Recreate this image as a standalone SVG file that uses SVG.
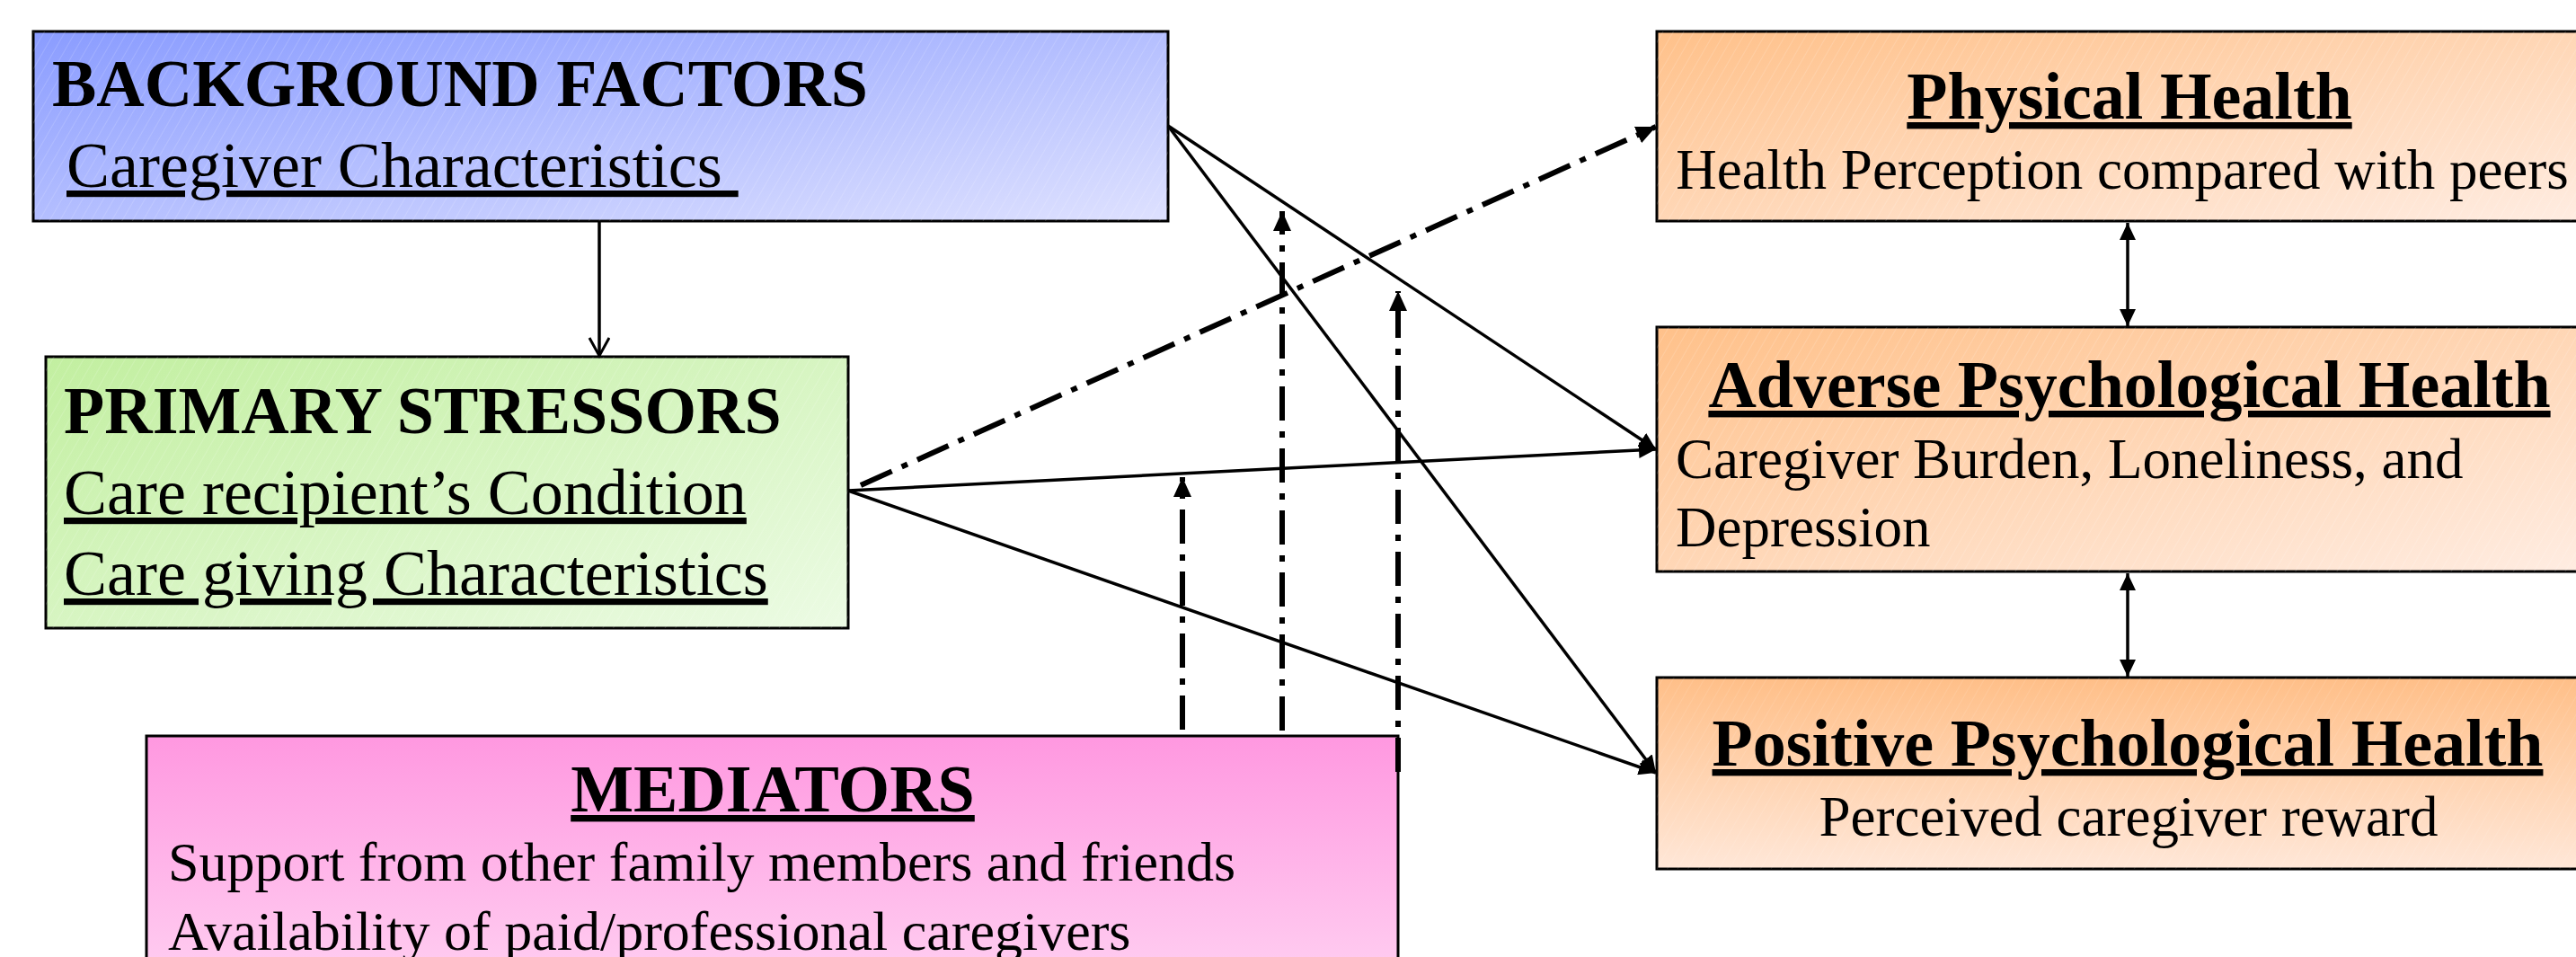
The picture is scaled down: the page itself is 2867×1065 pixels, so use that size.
<svg xmlns="http://www.w3.org/2000/svg" width="2867" height="1065" viewBox="0 0 2867 1065">
<style>
.box{stroke:#000;stroke-width:3}
.hd{font-family:"Liberation Serif","Times New Roman",serif;font-weight:bold;font-size:74px;fill:#000}
.bd{font-family:"Liberation Serif","Times New Roman",serif;font-size:72px;fill:#000}
.bs{font-family:"Liberation Serif","Times New Roman",serif;font-size:63px;fill:#000}
.bm{font-family:"Liberation Serif","Times New Roman",serif;font-size:62px;fill:#000}
.u{text-decoration:underline}
.c{text-anchor:middle}
.solid{fill:none;stroke:#000;stroke-width:3.5}
.dd{fill:none;stroke:#000;stroke-width:6;stroke-dasharray:38 12 7 12}
</style>
<defs>
<linearGradient id="gBlue" x1="0" y1="0" x2="1" y2="1"><stop offset="0" stop-color="#8A9CFF"/><stop offset="1" stop-color="#DEE1FF"/></linearGradient>
<linearGradient id="gGreen" x1="0" y1="0" x2="1" y2="1"><stop offset="0" stop-color="#C2EFA0"/><stop offset="1" stop-color="#ECFBE4"/></linearGradient>
<linearGradient id="gOrange" x1="0" y1="0" x2="1" y2="1"><stop offset="0" stop-color="#FFC18A"/><stop offset="1" stop-color="#FFEDE3"/></linearGradient>
<linearGradient id="gOrangeV" x1="0" y1="0" x2="0" y2="1"><stop offset="0" stop-color="#FFBF88"/><stop offset="1" stop-color="#FFE7D8"/></linearGradient>
<linearGradient id="gPink" x1="0" y1="0" x2="0" y2="1"><stop offset="0" stop-color="#FF98E0"/><stop offset="1" stop-color="#FFD8F4"/></linearGradient>
<pattern id="hatch" width="10" height="10" patternUnits="userSpaceOnUse" patternTransform="rotate(30)"><line x1="0" y1="0" x2="0" y2="10" stroke="#fff" stroke-width="1"/></pattern>
<marker id="ah" markerUnits="userSpaceOnUse" markerWidth="20" markerHeight="18" refX="19" refY="9" orient="auto-start-reverse"><path d="M0,0 L19,9 L0,18 z" fill="#000"/></marker>
<marker id="ahb" markerUnits="userSpaceOnUse" markerWidth="24" markerHeight="20" refX="22" refY="10" orient="auto"><path d="M0,0 L22,10 L0,20 z" fill="#000"/></marker>
<marker id="vo" markerUnits="userSpaceOnUse" markerWidth="26" markerHeight="26" refX="22" refY="12" orient="auto"><path d="M2,1 L22,12 L2,23" fill="none" stroke="#000" stroke-width="3"/></marker>
</defs>
<rect width="2867" height="1065" fill="#fff"/>

<g id="background-factors">
<rect class="box" x="37" y="35" width="1263" height="211" fill="url(#gBlue)"/>
<rect x="37" y="35" width="1263" height="211" fill="url(#hatch)" opacity="0.3"/>
<text class="hd" x="58" y="118">BACKGROUND FACTORS</text>
<text class="bd u" x="74" y="208" xml:space="preserve">Caregiver Characteristics </text>
</g>

<g id="primary-stressors">
<rect class="box" x="51" y="397" width="893" height="302" fill="url(#gGreen)"/>
<rect x="51" y="397" width="893" height="302" fill="url(#hatch)" opacity="0.3"/>
<text class="hd" x="71" y="482">PRIMARY STRESSORS</text>
<text class="bd u" x="71" y="572">Care recipient’s Condition</text>
<text class="bd u" x="71" y="662">Care giving Characteristics</text>
</g>

<g id="mediators">
<rect class="box" x="163" y="819" width="1393" height="320" fill="url(#gPink)"/>
<text class="hd u c" x="860" y="903">MEDIATORS</text>
<text class="bm" x="187" y="980">Support from other family members and friends</text>
<text class="bm" x="187" y="1057">Availability of paid/professional caregivers</text>
</g>

<g id="physical-health">
<rect class="box" x="1844" y="35" width="1060" height="211" fill="url(#gOrange)"/>
<rect x="1844" y="35" width="1060" height="211" fill="url(#hatch)" opacity="0.3"/>
<text class="hd u c" x="2370" y="132">Physical Health</text>
<text class="bs c" x="2362" y="210">Health Perception compared with peers</text>
</g>

<g id="adverse-psychological-health">
<rect class="box" x="1844" y="364" width="1060" height="272" fill="url(#gOrange)"/>
<rect x="1844" y="364" width="1060" height="272" fill="url(#hatch)" opacity="0.3"/>
<text class="hd u c" x="2370" y="453">Adverse Psychological Health</text>
<text class="bs" x="1865" y="532">Caregiver Burden, Loneliness, and</text>
<text class="bs" x="1865" y="608">Depression</text>
</g>

<g id="positive-psychological-health">
<rect class="box" x="1844" y="754" width="1060" height="213" fill="url(#gOrangeV)"/>
<rect x="1844" y="754" width="1060" height="213" fill="url(#hatch)" opacity="0.2"/>
<text class="hd u c" x="2368" y="852">Positive Psychological Health</text>
<text class="bs c" x="2369" y="930">Perceived caregiver reward</text>
</g>

<g id="connectors">
<line class="solid" x1="667" y1="246" x2="667" y2="396" marker-end="url(#vo)"/>
<line class="solid" x1="1300" y1="140" x2="1843" y2="500" marker-end="url(#ah)"/>
<line class="solid" x1="1300" y1="140" x2="1843" y2="860" marker-end="url(#ah)"/>
<line class="solid" x1="944" y1="546" x2="1843" y2="500" marker-end="url(#ah)"/>
<line class="solid" x1="944" y1="546" x2="1843" y2="860" marker-end="url(#ah)"/>
<line class="dd" x1="958" y1="540" x2="1843" y2="141" marker-end="url(#ahb)"/>
<line class="dd" x1="1316" y1="812" x2="1316" y2="531" marker-end="url(#ahb)"/>
<line class="dd" x1="1427" y1="813" x2="1427" y2="235" marker-end="url(#ahb)"/>
<line class="dd" x1="1556" y1="859" x2="1556" y2="324" marker-end="url(#ahb)"/>
<line class="solid" x1="2368" y1="248" x2="2368" y2="363" marker-start="url(#ah)" marker-end="url(#ah)"/>
<line class="solid" x1="2368" y1="638" x2="2368" y2="753" marker-start="url(#ah)" marker-end="url(#ah)"/>
</g>
</svg>
